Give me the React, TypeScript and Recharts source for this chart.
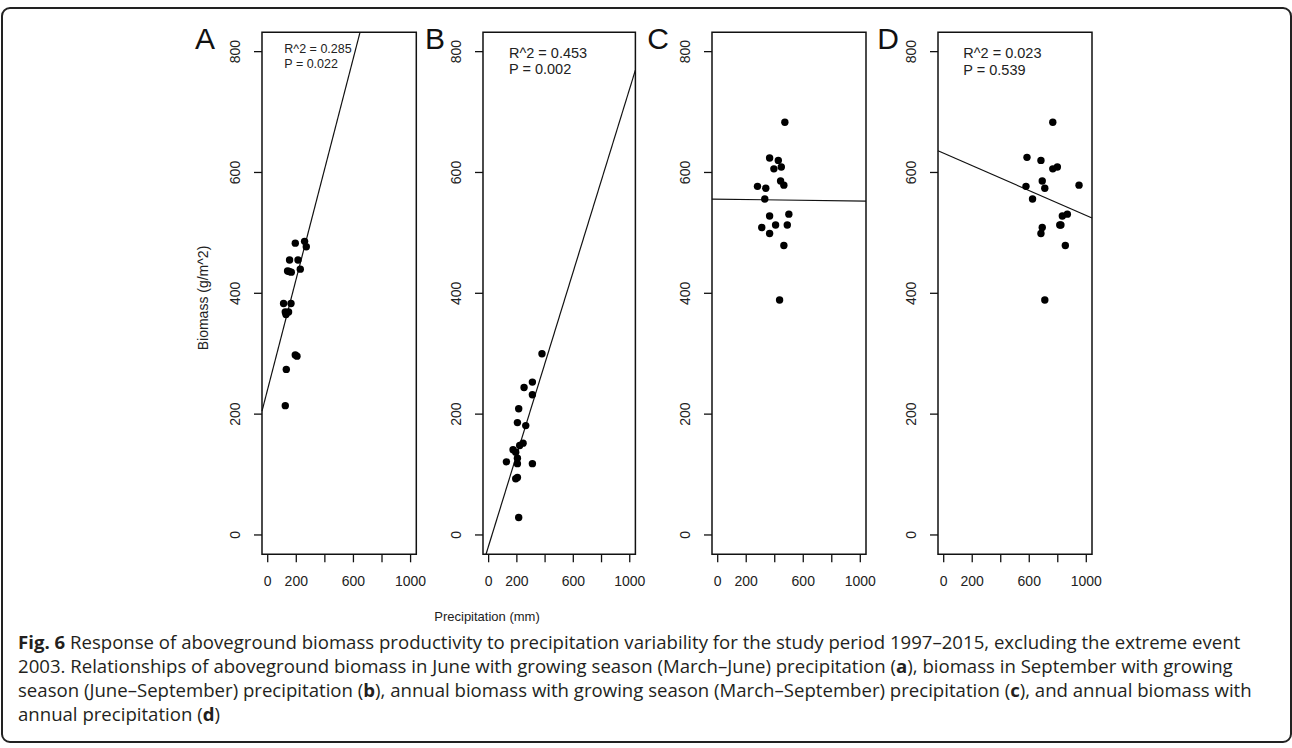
import React from "react";
import { ScatterChart, Scatter, XAxis, YAxis, ReferenceArea, ReferenceLine } from "recharts";

// ---------- data ----------
const panelLetters = ["A", "B", "C", "D"];

const precipA = [193, 258, 270, 153, 212, 139, 165, 228, 111, 163, 123, 146, 128, 130, 193, 205, 123, 150];
const biomassA = [483, 486, 477, 455, 455, 437, 435, 440, 383, 383, 369, 369, 365, 274, 298, 296, 214, 436];

const precipB = [378, 310, 251, 310, 213, 204, 263, 244, 220, 173, 192, 204, 126, 204, 310, 192, 204, 213];
const biomassB = [300, 253, 244, 232, 209, 186, 181, 152, 148, 141, 137, 127, 121, 118, 118, 93, 95, 29];

const precipC = [471, 364, 425, 394, 446, 441, 464, 279, 337, 330, 364, 499, 309, 406, 488, 364, 464, 434];
const biomassC = [683, 624, 620, 606, 609, 586, 579, 577, 574, 556, 528, 531, 509, 513, 513, 499, 479, 389];

const precipD = [765, 584, 682, 765, 797, 691, 709, 577, 949, 623, 832, 867, 814, 691, 682, 853, 709, 822];
const biomassD = [683, 625, 620, 606, 609, 586, 574, 577, 579, 556, 528, 531, 513, 509, 499, 479, 389, 513];

// regression fits: [intercept, slope]
const fitA = [241.6, 0.914];
const fitB = [-17.9, 0.757];
const fitC = [555.9, -0.0033];
const fitD = [631.9, -0.1032];

const statR2 = ["R^2 = 0.285", "R^2 = 0.453", "", "R^2 = 0.023"];
const statP = ["P = 0.022", "P = 0.002", "", "P = 0.539"];

const xTicks = [0, 200, 400, 600, 800, 1000];
const xTickLabels = [0, 200, 600, 1000];
const yTicks = [0, 200, 400, 600, 800];
const xDomain = [-40, 1040];
const yDomain = [-32, 832];

const yTitle = "Biomass (g/m^2)";
const xTitle = "Precipitation (mm)";

// ---------- layout ----------
const FONT = "'Liberation Sans', Arial, sans-serif";
const CAP_FONT = "'Open Sans', 'Noto Sans', sans-serif";
const BOX_TOP = 32.3;
const BOX_BOTTOM = 554.3;
const CH_H = 600;
const Y_W = 70;
const R_M = 10;

const panels = [
  { left: 261.7, right: 416, px: precipA, by: biomassA, fit: fitA, letterX: 205, statX: 284.3, statSize: 12.5, r2Y: 49.3, pY: 64 },
  { left: 483.3, right: 635.7, px: precipB, by: biomassB, fit: fitB, letterX: 435, statX: 509, statSize: 14.5, r2Y: 52.7, pY: 69.3 },
  { left: 711.7, right: 865.7, px: precipC, by: biomassC, fit: fitC, letterX: 658, statX: 0, statSize: 14, r2Y: 0, pY: 0 },
  { left: 938.3, right: 1092.3, px: precipD, by: biomassD, fit: fitD, letterX: 888, statX: 963.3, statSize: 14.5, r2Y: 52.7, pY: 70 },
];

function clipFit(fit: number[]) {
  const [b0, b1] = fit;
  const [x0, x1] = xDomain;
  const [y0, y1] = yDomain;
  const clampX = (x: number) => {
    let y = b0 + b1 * x;
    let xx = x;
    if (y > y1) { y = y1; xx = (y1 - b0) / b1; }
    if (y < y0) { y = y0; xx = (y0 - b0) / b1; }
    return { x: xx, y };
  };
  return [clampX(x0), clampX(x1)];
}

const Dot = (props: any) => {
  const { cx, cy } = props;
  if (cx == null || cy == null) return <g />;
  return <circle cx={cx} cy={cy} r={3.7} fill="#000" />;
};

const XTick = (props: any) => {
  const { x, y, payload } = props;
  if (!xTickLabels.includes(payload.value)) return <g />;
  return (
    <text x={x} y={y} dy="0.71em" textAnchor="middle" fontSize={14} fill="#222" fontFamily={FONT}>
      {payload.value}
    </text>
  );
};

const YTick = (props: any) => {
  const { x, y, payload } = props;
  return (
    <text x={x} y={y} transform={`rotate(-90 ${x} ${y})`} textAnchor="middle" fontSize={14} fill="#222" fontFamily={FONT}>
      {payload.value}
    </text>
  );
};

function Panel({ p }: { p: any }) {
  const w = p.right - p.left;
  const data = p.px.map((x: number, i: number) => ({ x, y: p.by[i] }));
  const seg = clipFit(p.fit);
  return (
    <div style={{ position: "absolute", left: p.left - Y_W, top: 0 }}>
      <ScatterChart
        width={Y_W + w + R_M}
        height={CH_H}
        margin={{ top: BOX_TOP, right: R_M, left: 0, bottom: 0 }}
      >
        <XAxis
          type="number"
          dataKey="x"
          domain={xDomain}
          ticks={xTicks}
          allowDataOverflow
          axisLine={false}
          tickLine={{ stroke: "#111", strokeWidth: 1.3 }}
          tickSize={8}
          tickMargin={14}
          height={CH_H - BOX_BOTTOM}
          tick={(tp: any) => <XTick {...tp} />}
          interval={0}
        />
        <YAxis
          type="number"
          dataKey="y"
          domain={yDomain}
          ticks={yTicks}
          allowDataOverflow
          axisLine={false}
          tickLine={{ stroke: "#111", strokeWidth: 1.3 }}
          tickSize={8}
          tickMargin={14}
          width={Y_W}
          tick={(tp: any) => <YTick {...tp} />}
          interval={0}
        />
        <ReferenceArea
          x1={xDomain[0]}
          x2={xDomain[1]}
          y1={yDomain[0]}
          y2={yDomain[1]}
          fill="none"
          fillOpacity={0}
          stroke="#111"
          strokeWidth={1.5}
          ifOverflow="visible"
        />
        <ReferenceLine segment={seg} stroke="#111" strokeWidth={1.2} ifOverflow="visible" />
        <Scatter data={data} fill="#000" shape={(sp: any) => <Dot {...sp} />} isAnimationActive={false} />
      </ScatterChart>
    </div>
  );
}

const abs = (s: any) => ({ position: "absolute" as const, ...s });

export default function App() {
  return (
    <div style={{ position: "absolute", left: 0, top: 0, width: 1292, height: 748, background: "#fff", overflow: "hidden" }}>
      <div
        style={abs({
          left: 1,
          top: 7,
          width: 1287,
          height: 732,
          border: "2px solid #222",
          borderRadius: 9,
        })}
      />
      {panels.map((p, i) => (
        <Panel key={i} p={p} />
      ))}
      {panels.map((p, i) => (
        <div
          key={"l" + i}
          style={abs({
            left: p.letterX - 20,
            width: 40,
            top: 39 - 17,
            height: 34,
            lineHeight: "34px",
            textAlign: "center",
            fontFamily: FONT,
            fontSize: 30,
            color: "#111",
          })}
        >
          {panelLetters[i]}
        </div>
      ))}
      {panels.map((p, i) =>
        statR2[i] ? (
          <React.Fragment key={"s" + i}>
            <div style={abs({ left: p.statX, top: p.r2Y - 10, height: 20, lineHeight: "20px", fontFamily: FONT, fontSize: p.statSize, color: "#222", whiteSpace: "nowrap" })}>
              {statR2[i]}
            </div>
            <div style={abs({ left: p.statX, top: p.pY - 10, height: 20, lineHeight: "20px", fontFamily: FONT, fontSize: p.statSize, color: "#222", whiteSpace: "nowrap" })}>
              {statP[i]}
            </div>
          </React.Fragment>
        ) : null
      )}
      <div
        style={abs({
          left: 203 - 100,
          top: 298 - 10,
          width: 200,
          height: 20,
          lineHeight: "20px",
          textAlign: "center",
          transform: "rotate(-90deg)",
          fontFamily: FONT,
          fontSize: 14,
          color: "#222",
          whiteSpace: "nowrap",
        })}
      >
        {yTitle}
      </div>
      <div
        style={abs({
          left: 487 - 100,
          top: 617 - 10,
          width: 200,
          height: 20,
          lineHeight: "20px",
          textAlign: "center",
          fontFamily: FONT,
          fontSize: 13,
          color: "#222",
          whiteSpace: "nowrap",
        })}
      >
        {xTitle}
      </div>
      <div style={abs({ left: 18, top: 630, fontFamily: CAP_FONT, fontSize: 18.6, lineHeight: "24px", color: "#231f20", whiteSpace: "nowrap" })}>
        <div>
          <b>Fig. 6</b> Response of aboveground biomass productivity to precipitation variability for the study period 1997–2015, excluding the extreme event
        </div>
        <div>
          2003. Relationships of aboveground biomass in June with growing season (March–June) precipitation (<b>a</b>), biomass in September with growing
        </div>
        <div>
          season (June–September) precipitation (<b>b</b>), annual biomass with growing season (March–September) precipitation (<b>c</b>), and annual biomass with
        </div>
        <div>
          annual precipitation (<b>d</b>)
        </div>
      </div>
    </div>
  );
}
